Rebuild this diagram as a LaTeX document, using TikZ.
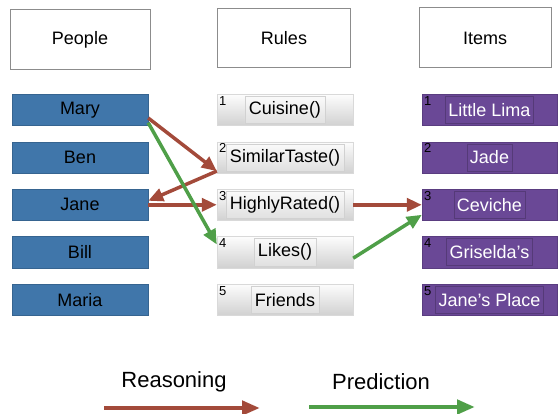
\documentclass[tikz,border=0pt]{standalone}
\usepackage{fontspec}
\setmainfont{Liberation Sans}
\usetikzlibrary{arrows.meta, positioning}
\definecolor{pplblue}{HTML}{4076AA}
\definecolor{itmpurple}{HTML}{6A4896}
\definecolor{reasred}{HTML}{A34A3A}
\definecolor{predgreen}{HTML}{4F9F48}
\tikzset{
  hdbox/.style     = {rectangle, draw=black!45, line width=1pt,
                      minimum width=134pt, minimum height=59pt,
                      font=\fontsize{18}{20}\selectfont},
  pplbox/.style    = {rectangle, fill=pplblue, draw=pplblue!85!black,
                      minimum width=136pt, minimum height=31pt,
                      font=\fontsize{18}{20}\selectfont},
  rulebox/.style   = {rectangle, draw=black!15, top color=black!1,
                      bottom color=black!18, minimum width=136pt,
                      minimum height=31pt},
  rulebtn/.style   = {rectangle, draw=black!18, top color=black!2,
                      bottom color=black!12, inner xsep=4pt, inner ysep=2pt,
                      minimum height=27pt, font=\fontsize{18}{20}\selectfont},
  itembox/.style   = {rectangle, fill=itmpurple, draw=itmpurple!85!black,
                      minimum width=135pt, minimum height=31pt},
  itembtn/.style   = {rectangle, draw=itmpurple!80!black, line width=0.6pt,
                      inner xsep=3pt, inner ysep=2pt, minimum height=27pt,
                      text=white, font=\fontsize{18}{20}\selectfont},
  numlab/.style    = {font=\fontsize{13}{14}\selectfont, inner sep=2pt,
                      anchor=north west},
  reasarrow/.style = {-{Triangle[length=15pt,width=13pt]}, draw=reasred,
                      line width=3.5pt},
  predarrow/.style = {-{Triangle[length=15pt,width=13pt]}, draw=predgreen,
                      line width=3.5pt},
  legtext/.style   = {font=\fontsize{22}{24}\selectfont},
}

\begin{document}
\begin{tikzpicture}[x=1pt, y=1pt, node distance=16pt]
  \useasboundingbox (0,0) rectangle (560,413);

  % column headers
  \node[hdbox, minimum width=140pt, minimum height=60pt] (people) at (80,373) {People};
  \node[hdbox, minimum width=133pt] (rules) at (284,375) {Rules};
  \node[hdbox, minimum width=132pt, minimum height=60pt] (items) at (485,375) {Items};

  % people
  \node[pplbox] (mary) at (80,303) {Mary};
  \node[pplbox, below=of mary] (ben) {Ben};
  \node[pplbox, below=of ben] (jane) {Jane};
  \node[pplbox, below=of jane] (bill) {Bill};
  \node[pplbox, below=of bill] (maria) {Maria};

  % rules
  \node[rulebox, label={[numlab]north west:1}] (cuis) at (285,303) {};
  \node[rulebtn] at (cuis) {Cuisine()};
  \node[rulebox, below=of cuis, label={[numlab]north west:2}] (sim) {};
  \node[rulebtn] at (sim) {SimilarTaste()};
  \node[rulebox, below=of sim, label={[numlab]north west:3}] (high) {};
  \node[rulebtn] at (high) {HighlyRated()};
  \node[rulebox, below=of high, label={[numlab]north west:4}] (likes) {};
  \node[rulebtn] at (likes) {Likes()};
  \node[rulebox, below=of likes, label={[numlab]north west:5}] (frnd) {};
  \node[rulebtn] at (frnd) {Friends};

  % items
  \node[itembox, label={[numlab]north west:1}] (lima) at (489.5,303) {};
  \node[itembtn] at (lima) {Little Lima};
  \node[itembox, below=of lima, label={[numlab]north west:2}] (jade) {};
  \node[itembtn] at (jade) {Jade};
  \node[itembox, below=of jade, label={[numlab]north west:3}] (cev) {};
  \node[itembtn] at (cev) {Ceviche};
  \node[itembox, below=of cev, label={[numlab]north west:4}] (gris) {};
  \node[itembtn] at (gris) {Griselda's};
  \node[itembox, below=of gris, label={[numlab]north west:5}] (jplace) {};
  \node[itembtn] at (jplace) {Jane's Place};

  % reasoning chain
  \draw[reasarrow] ([yshift=-8pt]mary.east) -- ([yshift=2pt]sim.south west);
  \draw[reasarrow] ([yshift=2pt]sim.south west) -- ([yshift=4pt]jane.east);
  \draw[reasarrow] (jane.east) -- (high.west);
  \draw[reasarrow] (high.east) -- (cev.west);

  % prediction
  \draw[predarrow] ([yshift=3pt]mary.south east) -- ([yshift=-8pt]likes.north west);
  \draw[predarrow] ([yshift=-6pt]likes.east) -- ([yshift=-10pt]cev.west);

  % legend
  \node[legtext] (reas) at (174,31) {Reasoning};
  \node[legtext] (pred) at (381,31) {Prediction};
  \coordinate (rs) at (104,5);
  \coordinate (re) at (260,5);
  \coordinate (ps) at (309,6);
  \coordinate (pe) at (475,6);
  \draw[reasarrow, line width=4.5pt, -{Triangle[length=18pt,width=14pt]}] (rs) -- (re);
  \draw[predarrow, line width=4.5pt, -{Triangle[length=18pt,width=14pt]}] (ps) -- (pe);
\end{tikzpicture}
\end{document}
